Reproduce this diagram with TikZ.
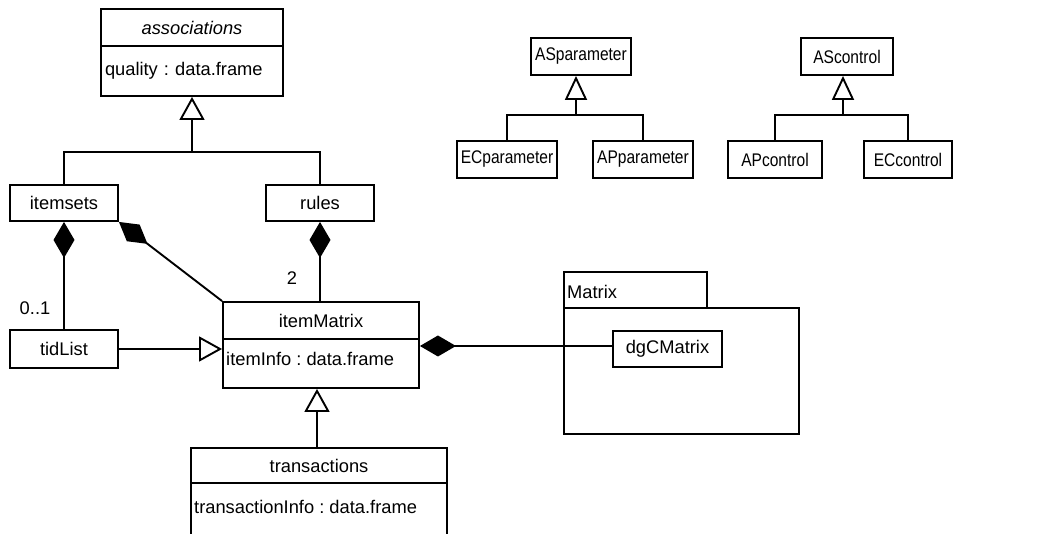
\documentclass[tikz,border=0pt]{standalone}
\usepackage{fontspec}
\setmainfont{Liberation Sans}
\usetikzlibrary{arrows.meta}
\tikzset{
  every node/.style={font=\fontsize{18.3}{22}\selectfont\frenchspacing},
  uml/.style={draw, line width=1.9pt, rectangle, inner sep=0pt},
  lnk/.style={line width=1.9pt},
  comp/.style={lnk, {Diamond[length=36pt,width=21pt,fill=black]}-},
  gen/.style={lnk, -{Triangle[open,length=23pt,width=25pt,fill=white]}},
  gens/.style={lnk, -{Triangle[open,length=24pt,width=22pt,fill=white]}},
  lbl/.style={inner sep=0pt}
}
\newcommand{\cnd}[1]{\scalebox{0.85}[1]{#1}}
\begin{document}
\begin{tikzpicture}[x=1pt,y=-1pt]
\clip (0,0) rectangle (1049,534);
\fill[white] (0,0) rectangle (1049,534);

% associations
\node[uml, minimum width=182, minimum height=37] (assoc) at (192,27.5) {\itshape associations};
\node[uml, minimum width=182, minimum height=50, text width=174, inner xsep=4pt, align=left] (assocb) at (192,71) {quality : data.frame};

% itemsets, rules
\node[uml, minimum width=108, minimum height=36] (itemsets) at (64,203) {itemsets};
\node[uml, minimum width=108, minimum height=36] (rules) at (320,203) {rules};

% tidList
\node[uml, minimum width=108, minimum height=38] (tidList) at (64,349) {tidList};

% itemMatrix
\node[uml, minimum width=196, minimum height=37] (itemM) at (321,320.5) {itemMatrix};
\node[uml, minimum width=196, minimum height=49] (itemMb) at (321,363.5) {};
\node[lbl, anchor=west] (itemInfo) at (226,359) {itemInfo : data.frame};

% transactions
\node[uml, minimum width=256, minimum height=35] (trans) at (319,465.5) {transactions};
\node[uml, minimum width=256, minimum height=80] (transb) at (319,523) {};
\node[lbl, anchor=west] (transInfo) at (194,507) {transactionInfo : data.frame};

% Matrix package
\node[uml, minimum width=143, minimum height=36] (mtab) at (635.5,290) {};
\node[lbl, anchor=west] (mlabel) at (567,292) {Matrix};
\node[uml, minimum width=235, minimum height=126] (mbody) at (681.5,371) {};
\node[uml, minimum width=109, minimum height=36] (dgC) at (667.5,349) {dgCMatrix};

% right groups
\node[uml, minimum width=100, minimum height=37] (ASp) at (581,56.5) {\cnd{ASparameter}};
\node[uml, minimum width=100, minimum height=37] (ECp) at (507,159.5) {\cnd{ECparameter}};
\node[uml, minimum width=100, minimum height=37] (APp) at (643,159.5) {\cnd{APparameter}};
\node[uml, minimum width=92, minimum height=37] (ASc) at (847,56.5) {\cnd{AScontrol}};
\node[uml, minimum width=94, minimum height=37] (APc) at (775,159.5) {\cnd{APcontrol}};
\node[uml, minimum width=88, minimum height=37] (ECc) at (908,159.5) {\cnd{ECcontrol}};

% generalization associations
\coordinate (jA) at (192,152);
\draw[lnk] (itemsets.north) |- (jA) -| (rules.north);
\draw[gen] (jA) -- (assocb.south);

% compositions
\draw[comp] (itemsets.south) -- (tidList.north);
\draw[comp] (itemsets.south east) -- (itemM.north west);
\draw[comp] (rules.south) -- (rules.south |- itemM.north);
\draw[comp] ([yshift=3pt]dgC.west -| itemMb.east) -- ([yshift=3pt]dgC.west);

% multiplicities
\node[lbl] (m01) at (35,308) {0..1};
\node[lbl] (m2) at (292,278) {2};

% generalizations
\draw[gen] (tidList.east) -- (tidList.east -| itemMb.west);
\draw[gen] (trans.north -| 317,0) -- (317,0 |- itemMb.south);

% right group generalizations
\coordinate (jP) at (576,115);
\draw[lnk] (ECp.north) |- (jP) -| (APp.north);
\draw[gens] (jP) -- (jP |- ASp.south);
\coordinate (jC) at (843,115);
\draw[lnk] (APc.north) |- (jC) -| (ECc.north);
\draw[gens] (jC) -- (jC |- ASc.south);
\end{tikzpicture}
\end{document}
